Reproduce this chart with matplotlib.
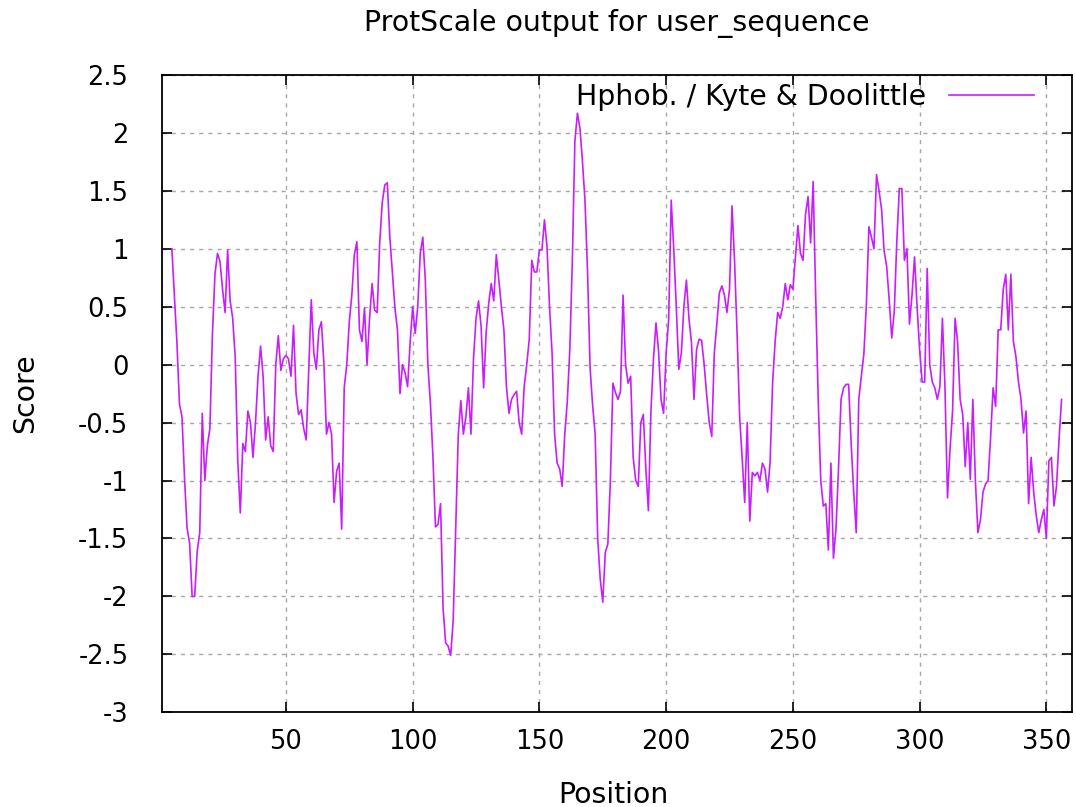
import matplotlib
matplotlib.use("Agg")
import matplotlib.pyplot as plt
from matplotlib.ticker import FuncFormatter, MultipleLocator

# Kyte & Doolittle scores, window 9, one value per residue from position 5
first_pos = 5
scores = [
    1.00, 0.60, 0.19, -0.34, -0.45, -0.98, -1.41, -1.54, -2.00, -2.00,
    -1.61, -1.45, -0.42, -1.00, -0.70, -0.55, 0.26, 0.78, 0.96, 0.89,
    0.65, 0.45, 0.99, 0.55, 0.40, 0.06, -0.83, -1.28, -0.68, -0.75,
    -0.40, -0.50, -0.80, -0.50, -0.10, 0.16, -0.10, -0.65, -0.45, -0.70,
    -0.75, 0.00, 0.25, -0.05, 0.05, 0.08, 0.05, -0.10, 0.34, -0.25,
    -0.43, -0.39, -0.55, -0.65, -0.04, 0.56, 0.10, -0.04, 0.30, 0.37,
    0.00, -0.60, -0.50, -0.60, -1.19, -0.92, -0.85, -1.42, -0.20, 0.00,
    0.37, 0.60, 0.95, 1.06, 0.30, 0.20, 0.49, 0.00, 0.40, 0.70,
    0.47, 0.45, 1.05, 1.40, 1.55, 1.57, 1.10, 0.80, 0.49, 0.30,
    -0.25, 0.00, -0.07, -0.19, 0.19, 0.50, 0.27, 0.50, 0.96, 1.10,
    0.73, 0.00, -0.33, -0.80, -1.40, -1.38, -1.20, -2.10, -2.40, -2.43,
    -2.51, -2.20, -1.40, -0.60, -0.31, -0.60, -0.45, -0.20, -0.60, 0.05,
    0.40, 0.55, 0.33, -0.20, 0.28, 0.53, 0.70, 0.55, 0.95, 0.73,
    0.50, 0.30, -0.19, -0.42, -0.30, -0.26, -0.23, -0.50, -0.60, -0.19,
    0.00, 0.22, 0.90, 0.80, 0.80, 0.99, 0.99, 1.25, 1.02, 0.50,
    0.10, -0.60, -0.85, -0.90, -1.05, -0.60, -0.32, 0.13, 0.90, 1.93,
    2.17, 2.04, 1.75, 1.41, 0.80, -0.03, -0.35, -0.60, -1.50, -1.85,
    -2.05, -1.62, -1.55, -1.00, -0.16, -0.24, -0.30, -0.23, 0.60, 0.00,
    -0.16, -0.10, -0.80, -1.00, -1.05, -0.50, -0.43, -0.90, -1.26, -0.40,
    0.05, 0.36, 0.12, -0.30, -0.42, 0.10, 0.39, 1.42, 1.00, 0.50,
    -0.04, 0.10, 0.50, 0.73, 0.40, 0.19, -0.30, 0.13, 0.22, 0.21,
    0.00, -0.26, -0.50, -0.62, 0.10, 0.35, 0.62, 0.68, 0.60, 0.45,
    0.65, 1.37, 0.89, 0.26, -0.45, -0.81, -1.19, -0.50, -1.35, -0.93,
    -0.96, -0.93, -1.00, -0.85, -0.90, -1.10, -0.85, -0.16, 0.20, 0.45,
    0.40, 0.50, 0.70, 0.56, 0.69, 0.65, 0.93, 1.20, 0.96, 0.90,
    1.30, 1.45, 1.05, 1.58, 0.59, -0.30, -1.00, -1.22, -1.20, -1.60,
    -0.85, -1.67, -1.42, -0.90, -0.30, -0.20, -0.17, -0.17, -0.68, -1.10,
    -1.45, -0.30, -0.10, 0.09, 0.52, 1.19, 1.10, 1.00, 1.64, 1.50,
    1.34, 0.98, 0.85, 0.56, 0.23, 0.46, 1.06, 1.52, 1.52, 0.90,
    1.00, 0.35, 0.60, 0.93, 0.50, 0.13, -0.15, -0.15, 0.83, 0.00,
    -0.15, -0.20, -0.30, -0.19, 0.40, -0.19, -1.15, -0.73, -0.40, 0.40,
    0.19, -0.30, -0.43, -0.88, -0.50, -0.99, -0.30, -1.00, -1.45, -1.34,
    -1.10, -1.03, -1.00, -0.63, -0.20, -0.36, 0.30, 0.30, 0.65, 0.78,
    0.30, 0.78, 0.20, 0.07, -0.15, -0.30, -0.59, -0.40, -1.20, -0.80,
    -1.10, -1.30, -1.45, -1.34, -1.25, -1.50, -0.83, -0.80, -1.22, -1.05,
    -0.65, -0.30,
]
positions = list(range(first_pos, first_pos + len(scores)))

x_range = (1, 360)
y_range = (-3, 2.5)

plt.rcParams['font.family'] = ['DejaVu Sans']
fig = plt.figure(figsize=(10.76, 8.07), dpi=100)
ax = fig.add_axes([0.1503, 0.1174, 0.8457, 0.7897])

ax.plot(positions, scores, color='#c81eff', linewidth=1.2,
        label='Hphob. / Kyte & Doolittle')

ax.set_xlim(*x_range)
ax.set_ylim(*y_range)
ax.xaxis.set_major_locator(MultipleLocator(50))
ax.yaxis.set_major_locator(MultipleLocator(0.5))
ax.yaxis.set_major_formatter(FuncFormatter(lambda v, p: '%g' % v))

ax.tick_params(direction='in', length=7, width=1.2, top=True, right=True,
               labelsize=18.5, colors='black')
ax.tick_params(axis='y', pad=24)
ax.tick_params(axis='x', pad=12)
for s in ax.spines.values():
    s.set_linewidth(1.3)

ax.grid(True, color='#a8a8a8', linewidth=1.0, linestyle=(0, (3, 3.6)))

ax.set_title('ProtScale output for user_sequence', fontsize=20.4, pad=32)
ax.set_xlabel('Position', fontsize=20.4)
ax.set_ylabel('Score', fontsize=20.4)
ax.xaxis.set_label_coords(0.496, -0.108)
ax.yaxis.set_label_coords(-0.135, 0.5)

leg = ax.legend(loc='upper right', frameon=False, fontsize=20.4,
                markerfirst=False, handlelength=3.0, handletextpad=0.8,
                borderaxespad=0, borderpad=0,
                bbox_to_anchor=(0.9586, 0.988))

fig.savefig('out.png', dpi=100)
